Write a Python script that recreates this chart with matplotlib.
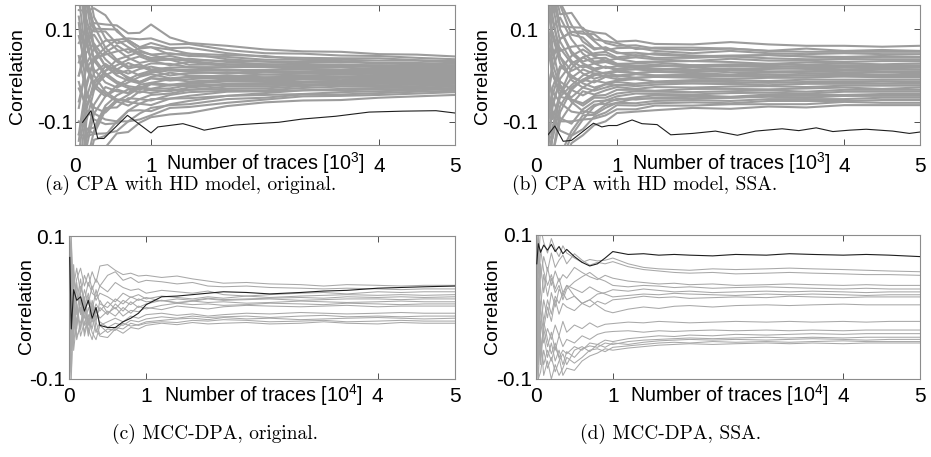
import matplotlib.pyplot as plt
import numpy as np

plt.rcParams['font.family'] = ['Liberation Sans', 'DejaVu Sans']
plt.rcParams['mathtext.fontset'] = 'custom'
plt.rcParams['mathtext.rm'] = 'Liberation Sans'

# ---- data (correlation values are stored x1000) ----
# (a)/(b): number of traces in 10^3
x_cpa = [0.05, 0.15, 0.25, 0.4, 0.55, 0.7, 0.85, 1.0, 1.25, 1.5, 2.0, 2.5, 3.0, 3.5, 4.0, 4.5, 5.0]

cpa_orig_wrong = [
    [70, 98, 113, 110, 108, 91, 92, 110, 82, 70, 64, 56, 52, 51, 46, 45, 41],
    [-141, -25, 38, 60, 77, 80, 78, 80, 67, 68, 55, 48, 47, 43, 42, 38, 35],
    [367, 164, 95, 95, 69, 76, 61, 70, 59, 60, 48, 40, 38, 37, 37, 33, 31],
    [28, 74, 88, 50, 65, 49, 58, 61, 56, 47, 44, 42, 34, 34, 32, 32, 28],
    [-282, -98, -32, 10, 34, 42, 51, 45, 48, 42, 40, 34, 34, 31, 27, 27, 25],
    [141, 139, 145, 130, 95, 76, 61, 61, 45, 47, 35, 30, 29, 29, 26, 24, 22],
    [254, 90, 38, 45, 52, 57, 44, 38, 42, 34, 31, 30, 25, 22, 22, 21, 20],
    [-70, 25, 57, 75, 77, 61, 48, 35, 36, 31, 24, 24, 23, 20, 21, 18, 18],
    [409, 213, 126, 80, 56, 38, 27, 32, 34, 23, 24, 20, 20, 20, 18, 17, 15],
    [85, 16, -19, 10, 22, 34, 41, 32, 22, 29, 20, 20, 16, 17, 14, 14, 13],
    [-212, -74, -13, 20, 13, 27, 17, 26, 25, 18, 18, 18, 14, 12, 13, 12, 11],
    [197, 172, 107, 60, 34, 19, 24, 13, 17, 18, 11, 12, 13, 10, 11, 10, 9],
    [-28, -66, -25, 0, 13, 4, 14, 19, 11, 13, 13, 10, 7, 9, 8, 9, 7],
    [310, 123, 57, 20, 4, 11, 0, 6, 11, 8, 4, 8, 5, 7, 5, 5, 5],
    [-367, -156, -82, -45, -22, -8, 3, 10, 0, 5, 7, 2, 4, 5, 3, 3, 3],
    [0, 49, 69, 35, 13, -8, -14, -3, 6, 0, -2, 2, 0, 2, 0, 1, 1],
    [226, 66, 13, -15, -26, -15, -3, 3, -6, -3, 0, -4, -2, -2, -3, -2, -1],
    [-169, -49, 6, 25, 9, -4, -14, -6, -8, -3, -7, -4, -5, -3, -5, -4, -4],
    [127, 25, -25, -45, -30, -38, -20, -16, -8, -13, -9, -10, -7, -5, -6, -6, -6],
    [-56, 16, 38, 5, -13, -23, -27, -16, -20, -16, -11, -12, -9, -10, -8, -8, -8],
    [338, 107, 32, 0, -17, -27, -31, -19, -22, -18, -13, -14, -14, -12, -11, -11, -10],
    [-310, -115, -113, -65, -43, -30, -37, -29, -20, -23, -18, -18, -14, -15, -14, -13, -12],
    [42, -41, -69, -80, -56, -42, -27, -32, -34, -26, -20, -20, -20, -17, -16, -15, -14],
    [-127, -131, -126, -75, -52, -53, -34, -38, -31, -31, -24, -24, -20, -20, -18, -17, -16],
    [169, 33, -19, -40, -56, -65, -51, -42, -39, -31, -29, -28, -23, -20, -21, -20, -18],
    [-254, -189, -120, -70, -69, -49, -51, -54, -42, -36, -33, -32, -27, -24, -24, -23, -21],
    [-14, -74, -95, -105, -103, -76, -61, -51, -50, -44, -35, -34, -32, -29, -27, -26, -24],
    [282, 82, 0, -35, -52, -57, -61, -64, -50, -49, -44, -38, -32, -32, -30, -29, -27],
    [-409, -205, -139, -130, -99, -76, -75, -77, -62, -55, -44, -42, -40, -36, -34, -32, -29],
    [-99, -115, -126, -125, -120, -99, -82, -70, -64, -62, -51, -48, -41, -41, -38, -35, -33],
    [113, -33, -82, -95, -99, -99, -95, -86, -70, -68, -59, -52, -45, -44, -42, -39, -36],
    [-197, -180, -170, -155, -125, -122, -102, -90, -84, -81, -66, -58, -54, -53, -48, -45, -42],
    [-127, -16, 32, 50, 30, 15, 20, 10, 14, 10, 11, 8, 9, 8, 8, 7, 6],
    [381, 156, 63, 20, 0, -11, -17, -6, -11, -8, -4, -6, -7, -5, -5, -5, -4],
    [0, 74, 101, 100, 99, 72, 54, 45, 34, 36, 29, 24, 23, 24, 21, 20, 18],
    [-353, -139, -63, -25, -34, -38, -24, -29, -28, -21, -20, -20, -16, -14, -14, -14, -13],
]
cpa_orig_key_x = [0.1, 0.21, 0.3, 0.38, 0.69, 1.0, 1.09, 1.33, 1.42, 1.57, 1.7, 1.9, 2.1, 2.37,
                  2.68, 2.99, 3.43, 3.87, 4.31, 4.75, 5.0]
cpa_orig_key = [-101, -76, -136, -136, -86, -124, -111, -106, -104, -111, -118, -112, -107, -104,
                -101, -94, -88, -79, -77, -76, -81]

cpa_ssa_wrong = [
    [212, 204, 132, 135, 99, 93, 90, 73, 75, 68, 67, 72, 67, 64, 64, 62, 64],
    [423, 187, 106, 104, 103, 78, 74, 70, 57, 60, 60, 58, 53, 58, 53, 55, 53],
    [-113, 34, 79, 94, 95, 74, 54, 59, 60, 53, 48, 53, 48, 46, 48, 46, 46],
    [127, 136, 158, 109, 73, 56, 61, 50, 42, 48, 43, 41, 44, 41, 40, 42, 40],
    [-324, -128, -40, 16, 39, 48, 51, 39, 44, 38, 38, 41, 37, 35, 35, 35, 35],
    [296, 119, 53, 62, 65, 44, 45, 36, 39, 35, 31, 36, 32, 32, 29, 31, 31],
    [14, -43, 13, 42, 56, 41, 32, 36, 29, 30, 31, 29, 25, 28, 26, 24, 26],
    [183, 170, 99, 52, 30, 37, 38, 25, 26, 28, 22, 24, 25, 23, 22, 22, 22],
    [-226, -68, -7, 26, 39, 26, 29, 22, 18, 20, 22, 19, 21, 18, 18, 18, 18],
    [381, 153, 73, 31, 17, 26, 16, 20, 16, 13, 17, 14, 14, 16, 13, 13, 13],
    [71, 94, 40, 10, 22, 11, 19, 11, 13, 10, 7, 12, 9, 9, 11, 9, 9],
    [-56, -94, -40, -5, 13, 4, 6, 11, 5, 8, 5, 2, 7, 5, 4, 7, 4],
    [254, 85, 26, -5, -13, 0, 6, 0, 3, 0, 2, 0, 2, 0, 0, 2, 0],
    [-395, -170, -79, -31, -9, -15, -3, -8, -5, -3, -5, -7, -5, -5, -2, -4, -4],
    [99, 0, -33, -47, -26, -11, -16, -11, -8, -13, -10, -10, -12, -9, -9, -9, -9],
    [-141, -26, 20, 0, -17, -26, -19, -14, -18, -15, -12, -14, -16, -14, -13, -13, -13],
    [338, 128, 40, -10, -26, -33, -26, -20, -23, -20, -17, -19, -21, -18, -18, -18, -18],
    [-28, -77, -99, -62, -34, -41, -32, -25, -29, -25, -26, -24, -23, -25, -22, -22, -22],
    [155, 26, -26, -52, -60, -44, -42, -31, -31, -33, -29, -29, -30, -28, -26, -29, -26],
    [-268, -111, -46, -52, -65, -48, -48, -39, -34, -35, -36, -34, -32, -35, -31, -31, -31],
    [42, -51, -92, -104, -73, -56, -54, -45, -39, -40, -41, -38, -37, -39, -35, -35, -35],
    [-367, -170, -99, -99, -95, -67, -54, -53, -47, -43, -43, -46, -41, -41, -42, -40, -40],
    [226, 60, -20, -57, -77, -81, -64, -59, -49, -50, -50, -48, -46, -48, -44, -44, -44],
    [-183, -179, -172, -120, -86, -85, -70, -59, -60, -55, -53, -55, -51, -51, -51, -48, -48],
    [0, -85, -119, -130, -116, -89, -80, -64, -65, -60, -58, -60, -55, -55, -55, -53, -53],
    [-423, -221, -191, -130, -95, -93, -86, -73, -73, -65, -65, -62, -62, -62, -57, -59, -59],
    [56, 102, 125, 78, 47, 30, 32, 25, 21, 23, 19, 22, 18, 21, 20, 18, 20],
    [-85, 17, 59, 26, 4, -7, 0, -3, 3, 0, -2, 0, 2, 0, 2, 0, 2],
    [310, 238, 152, 88, 82, 59, 58, 48, 49, 45, 41, 43, 44, 41, 37, 40, 40],
    [-155, -34, -59, -78, -82, -63, -61, -50, -52, -48, -46, -48, -44, -44, -44, -42, -42],
    [113, 9, -46, -21, 0, 11, 3, 8, 5, 8, 10, 7, 7, 9, 7, 7, 7],
    [-282, -247, -205, -146, -129, -107, -99, -81, -78, -75, -70, -72, -67, -69, -64, -64, -64],
    [141, 43, 79, 94, 90, 89, 70, 64, 65, 58, 55, 58, 53, 51, 51, 51, 51],
    [-127, -136, -66, -26, -9, 4, -3, 0, -5, -3, 0, -2, -2, 0, -2, -2, -2],
    [409, 196, 99, 47, 26, 15, 19, 14, 18, 15, 12, 14, 16, 14, 13, 15, 13],
    [-197, -60, -13, -31, -43, -30, -19, -22, -18, -15, -17, -17, -14, -16, -15, -13, -15],
]
cpa_ssa_key_x = [0.09, 0.18, 0.29, 0.4, 0.69, 0.8, 0.89, 1.0, 1.2, 1.33, 1.53, 1.71, 2.0, 2.3, 2.59,
                 2.83, 3.18, 3.4, 3.63, 3.85, 4.07, 4.29, 4.64, 4.86, 5.0]
cpa_ssa_key = [-128, -109, -142, -140, -103, -111, -108, -108, -96, -104, -106, -128, -125, -120,
               -129, -120, -115, -119, -113, -121, -118, -116, -120, -125, -122]

# (c)/(d): number of traces in 10^4
x_mcc = [0.01, 0.03, 0.06, 0.1, 0.15, 0.2, 0.25, 0.3, 0.35, 0.4, 0.5, 0.6, 0.7, 0.8, 0.9, 1.0,
         1.2, 1.4, 1.6, 1.8, 2.0, 2.3, 2.6, 3.0, 3.3, 3.6, 4.0, 4.3, 4.6, 5.0]

mcc_orig_wrong = [
    [40, -60, 30, 55, 20, 45, 30, 50, 35, 58, 60, 52, 46, 48, 44, 45, 42, 44, 40, 37, 34, 35, 33, 32, 30, 32, 31, 30, 31, 31],
    [-80, 90, 10, 40, 55, 30, 48, 25, 40, 30, 45, 50, 38, 42, 35, 38, 36, 33, 35, 30, 29, 30, 28, 27, 26, 27, 26, 25, 26, 26],
    [100, 20, 60, -10, 30, 10, 35, 20, 15, 30, 22, 35, 28, 24, 26, 20, 24, 22, 20, 23, 18, 16, 18, 20, 21, 19, 22, 21, 22, 22],
    [-100, -20, 40, 20, -5, 25, 5, 30, 10, 20, 15, 8, 20, 14, 18, 12, 16, 14, 12, 15, 13, 16, 14, 16, 17, 18, 17, 18, 17, 18],
    [60, 100, -30, 10, 40, 0, 20, -5, 25, 5, 0, 12, 5, 15, 10, 14, 9, 12, 10, 13, 11, 12, 13, 14, 13, 15, 14, 15, 14, 15],
    [-40, -100, 20, -25, 10, -15, 15, -10, 5, -5, 8, -2, 10, 4, 12, 8, 10, 7, 9, 12, 10, 11, 12, 10, 11, 12, 12, 11, 12, 12],
    [80, -50, -20, 35, -10, 15, -20, 10, -15, 0, -10, 5, -5, 8, 0, 5, 10, 6, 9, 7, 8, 6, 7, 9, 8, 7, 8, 9, 8, 8],
    [-60, 50, 0, -30, 20, -25, 0, -20, -5, -15, -5, -12, 0, -8, 2, -2, 3, 6, 4, 5, 3, 4, 6, 5, 4, 6, 5, 4, 5, 5],
    [100, 60, -40, 5, -30, 5, -25, 5, -20, 10, -8, 0, -12, -4, -6, 0, -3, 2, 0, -2, 1, 3, 2, 1, 2, 3, 1, 2, 2, 2],
    [-100, 30, -50, -15, 0, -35, -10, -30, 0, -25, -20, -15, -20, -12, -15, -10, -8, -11, -9, -12, -10, -8, -9, -7, -8, -9, -8, -7, -8, -8],
    [30, -90, -10, -45, -20, -5, -40, -15, -35, -20, -28, -22, -25, -18, -20, -16, -13, -15, -12, -14, -13, -12, -14, -12, -11, -13, -12, -13, -12, -12],
    [-30, -60, 50, 0, -40, -20, -30, -45, -20, -38, -30, -32, -22, -26, -24, -20, -18, -16, -15, -17, -14, -16, -15, -17, -16, -15, -14, -15, -16, -15],
    [70, 80, -60, -20, 10, -40, -15, -35, -45, -25, -35, -28, -30, -22, -25, -22, -20, -21, -18, -19, -17, -18, -20, -19, -18, -20, -19, -18, -19, -19],
    [-90, 40, 20, -40, -30, 10, -35, 0, -30, -40, -42, -30, -36, -28, -30, -25, -22, -24, -21, -23, -22, -21, -23, -22, -20, -22, -23, -21, -22, -22],
]
mcc_orig_key = [70, -30, 25, 10, 15, -5, 10, -15, 0, -25, -28, -28, -20, -15, -8, 4, 15, 16, 18, 20,
                22, 21, 19, 21, 23, 24, 27, 28, 29, 30]

mcc_ssa_wrong = [
    [100, 60, 110, 90, 75, 95, 80, 70, 85, 75, 68, 62, 66, 64, 65, 68, 60, 55, 53, 52, 51, 53, 52, 53, 54, 53, 52, 51, 50, 49],
    [-20, 80, 40, 70, 50, 75, 55, 65, 72, 60, 74, 65, 58, 62, 60, 63, 56, 52, 50, 48, 47, 48, 46, 47, 48, 47, 46, 45, 45, 44],
    [40, -50, 60, 20, 55, 30, 50, 35, 45, 40, 55, 48, 42, 38, 44, 40, 36, 34, 32, 33, 31, 32, 30, 31, 32, 31, 30, 31, 30, 30],
    [-90, 30, 0, 45, 15, 40, 20, 30, 10, 25, 35, 42, 48, 40, 36, 30, 28, 30, 29, 27, 28, 26, 27, 28, 27, 26, 25, 26, 25, 25],
    [80, 100, 20, -20, 10, -10, 15, 5, 20, 10, 15, 5, 10, 18, 20, 24, 22, 25, 23, 21, 22, 20, 21, 22, 21, 22, 21, 20, 21, 21],
    [-60, -100, -30, 10, -15, 20, 0, 25, 15, 30, 25, 20, 28, 22, 18, 14, 16, 18, 17, 19, 18, 17, 16, 18, 17, 18, 17, 16, 17, 17],
    [20, 70, -60, -30, 0, -20, 10, -10, 5, 0, -5, 5, 0, 8, 4, 10, 12, 15, 13, 14, 12, 13, 14, 13, 15, 14, 13, 14, 14, 14],
    [-100, 10, 80, 50, 30, 45, 25, 40, 20, 30, 15, 5, 10, 2, -5, -8, -3, 0, -2, 1, 2, 0, 2, 3, 2, 3, 4, 3, 3, 3],
    [60, -80, -20, -50, -30, -45, -25, -40, -20, -35, -25, -30, -22, -28, -24, -23, -21, -22, -20, -21, -22, -21, -20, -21, -20, -21, -20, -21, -20, -20],
    [-40, 40, -70, -30, -55, -35, -60, -40, -55, -45, -50, -40, -45, -38, -35, -34, -33, -35, -33, -34, -33, -32, -33, -32, -33, -32, -33, -32, -32, -32],
    [100, -20, -50, -80, -60, -75, -55, -70, -60, -65, -55, -60, -50, -52, -46, -48, -44, -42, -40, -41, -39, -40, -38, -39, -38, -37, -38, -37, -37, -37],
    [-100, -60, 0, -40, -70, -50, -75, -60, -80, -62, -70, -58, -54, -56, -50, -52, -48, -46, -45, -44, -43, -44, -43, -42, -43, -42, -43, -42, -42, -42],
    [30, -100, -90, -60, -85, -70, -90, -75, -65, -80, -60, -55, -62, -52, -56, -50, -52, -49, -47, -46, -45, -46, -45, -46, -45, -44, -45, -46, -45, -45],
    [-50, 20, -40, -95, -75, -100, -80, -95, -85, -70, -78, -70, -60, -58, -62, -56, -54, -52, -50, -49, -50, -48, -49, -48, -49, -48, -47, -48, -48, -48],
    [70, 90, -80, -20, -45, -65, -50, -70, -95, -85, -88, -75, -68, -64, -58, -60, -57, -55, -53, -52, -51, -52, -51, -50, -51, -50, -51, -50, -50, -50],
]
mcc_ssa_key = [60, 88, 76, 86, 79, 87, 77, 84, 74, 80, 70, 62, 57, 60, 68, 77, 73, 74, 72, 73,
               72, 71, 73, 72, 74, 73, 72, 73, 72, 70]

x_ticks = [0, 1, 4, 5]
captions = ['(a) CPA with HD model, original.', '(b) CPA with HD model, SSA.',
            '(c) MCC-DPA, original.', '(d) MCC-DPA, SSA.']
xlabels = ['Number of traces [$\\mathregular{10^3}$]', 'Number of traces [$\\mathregular{10^4}$]']

W, H = 931, 457
FS = 15
fig = plt.figure(figsize=(W / 100, H / 100), dpi=100)


def px_rect(left, top, right, bottom):
    return [left / W, 1 - bottom / H, (right - left) / W, (bottom - top) / H]


def panel(rect, xs, wrong, key_x, key, xlim, ylim, gray, lw, ypad, xpad):
    ax = fig.add_axes(rect)
    for line in wrong:
        ax.plot(xs, np.array(line) / 1000, color=gray, lw=lw, zorder=2)
    ax.plot(key_x, np.array(key) / 1000, color='#1e1e1e', lw=0.8, zorder=3)
    ax.set_xlim(*xlim)
    ax.set_ylim(*ylim)
    ax.set_xticks([t for t in x_ticks if t >= xlim[0]])
    ax.set_xticklabels([str(t) for t in x_ticks if t >= xlim[0]])
    ax.set_yticks([-0.1, 0.1])
    ax.set_yticklabels(['-0.1', '0.1'])
    ax.tick_params(direction='in', top=True, right=True, length=4, width=0.6,
                   color='#333333', labelsize=FS)
    ax.tick_params(axis='x', pad=xpad)
    ax.tick_params(axis='y', pad=ypad)
    for s in ax.spines.values():
        s.set_color('#8c8c8c')
        s.set_linewidth(0.8)
    return ax


ax_a = panel(px_rect(75, 5, 455, 145), x_cpa, cpa_orig_wrong, cpa_orig_key_x, cpa_orig_key,
             (0, 5), (-0.15, 0.152), '#9c9c9c', 1.5, 1, 8.5)
ax_b = panel(px_rect(548, 5, 920, 145), x_cpa, cpa_ssa_wrong, cpa_ssa_key_x, cpa_ssa_key,
             (0.09, 5), (-0.15, 0.152), '#9c9c9c', 1.5, 7, 8.5)
ax_b.annotate('0', xy=(0, 0), xycoords=('data', 'axes fraction'), xytext=(-4, -8.5),
              textcoords='offset points', ha='center', va='top', fontsize=FS,
              annotation_clip=False)
ax_c = panel(px_rect(69, 236, 455, 379), x_mcc, mcc_orig_wrong, x_mcc, mcc_orig_key,
             (0, 5), (-0.1, 0.1), '#a8a8a8', 0.75, 3, 6)
ax_d = panel(px_rect(536, 235, 920, 379), x_mcc, mcc_ssa_wrong, x_mcc, mcc_ssa_key,
             (0, 5), (-0.1, 0.1), '#a8a8a8', 0.75, 3, 6)


def ftext(x, y, s, **kw):
    fig.text(x / W, 1 - y / H, s, **kw)


for x, y in [(18, 76), (483, 76), (27, 306), (492, 306)]:
    ftext(x, y, 'Correlation', rotation=90, ha='center', va='center', fontsize=14)

XL = 14.2
ftext(265, 170, xlabels[0], ha='center', va='baseline', fontsize=XL)
ftext(731, 170, xlabels[0], ha='center', va='baseline', fontsize=XL)
ftext(263, 402, xlabels[1], ha='center', va='baseline', fontsize=XL)
ftext(729, 402, xlabels[1], ha='center', va='baseline', fontsize=XL)

for (x, y), cap in zip([(191, 185), (645, 185), (215, 434), (671, 434)], captions):
    ftext(x, y, cap, ha='center', va='center', fontsize=14, family='cmr10')

fig.savefig('out.png', dpi=100)
